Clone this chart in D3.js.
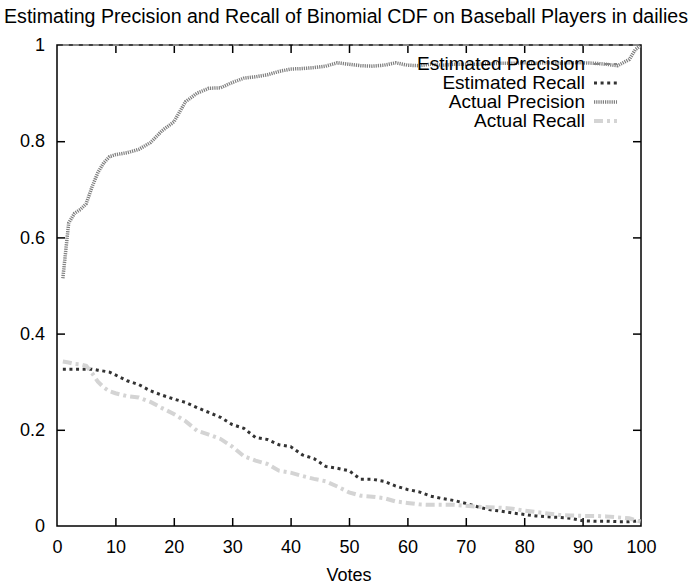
<!DOCTYPE html>
<html>
<head>
<meta charset="utf-8">
<script src="https://cdn.jsdelivr.net/npm/d3@7"></script>
<style>
  html, body { margin: 0; padding: 0; background: #fff; }
  svg { display: block; font-family: "Liberation Sans", Arial, sans-serif; }
</style>
</head>
<body>
<svg id="chart" width="688" height="585"></svg>
<script>
const title = "Estimating Precision and Recall of Binomial CDF on Baseball Players in dailies";
const xLabel = "Votes";
const seriesNames = ["Estimated Precision", "Estimated Recall", "Actual Precision", "Actual Recall"];
const xTicks = [0, 10, 20, 30, 40, 50, 60, 70, 80, 90, 100];
const yTicks = [0, 0.2, 0.4, 0.6, 0.8, 1];

const votes = [1,2,3,4,5,6,7,8,9,10,12,14,16,18,20,22,24,26,28,30,32,34,36,38,40,42,44,46,48,50,52,54,56,58,60,62,64,66,68,70,72,74,76,78,80,82,84,86,88,90,92,94,96,98,99,100];

const estimatedPrecision = votes.map(() => 1);

const estimatedRecall = [0.326,0.326,0.326,0.326,0.326,0.326,0.324,0.322,0.320,0.314,0.302,0.294,0.281,0.272,0.264,0.257,0.246,0.236,0.226,0.211,0.203,0.184,0.180,0.169,0.165,0.148,0.140,0.124,0.120,0.115,0.097,0.097,0.093,0.083,0.076,0.071,0.062,0.057,0.053,0.047,0.040,0.034,0.031,0.027,0.024,0.021,0.019,0.018,0.016,0.011,0.010,0.010,0.009,0.009,0.010,0.012];

const actualPrecision = [0.515,0.630,0.650,0.658,0.670,0.705,0.735,0.755,0.768,0.772,0.776,0.783,0.797,0.822,0.840,0.882,0.900,0.910,0.911,0.922,0.931,0.934,0.938,0.945,0.950,0.951,0.953,0.956,0.963,0.960,0.957,0.956,0.958,0.963,0.958,0.957,0.960,0.958,0.960,0.960,0.960,0.961,0.962,0.962,0.963,0.962,0.963,0.962,0.963,0.963,0.962,0.960,0.957,0.970,0.990,1.000];

const actualRecall = [0.342,0.340,0.337,0.336,0.333,0.318,0.300,0.288,0.280,0.276,0.270,0.267,0.258,0.245,0.233,0.218,0.198,0.190,0.181,0.165,0.145,0.136,0.129,0.115,0.111,0.104,0.098,0.093,0.082,0.070,0.063,0.061,0.058,0.051,0.048,0.045,0.044,0.044,0.044,0.042,0.040,0.039,0.038,0.036,0.032,0.029,0.026,0.023,0.022,0.021,0.021,0.020,0.018,0.016,0.012,0.009];

const seriesValues = [estimatedPrecision, estimatedRecall, actualPrecision, actualRecall];
const styles = [
  { stroke: "#888888", width: 2, dash: "6,4" },
  { stroke: "#333333", width: 3, dash: "3,3.6" },
  { stroke: "#7f7f7f", width: 3.5, dash: "1.2,1" },
  { stroke: "#d4d4d4", width: 4, dash: "9,4,3,4" }
];

const svg = d3.select("#chart");
const L = 57, R = 641, T = 45, B = 526;
const x = d3.scaleLinear().domain([0, 100]).range([L, R]);
const y = d3.scaleLinear().domain([0, 1]).range([B, T]);

// Title
svg.append("text").attr("x", 346).attr("y", 23).attr("text-anchor", "middle")
  .attr("font-size", 19.6).attr("fill", "#000").text(title);

// Axes (ticks inward, mirrored)
const tickLen = 8;
const gB = svg.append("g").attr("transform", `translate(0,${B})`)
  .call(d3.axisBottom(x).tickValues(xTicks).tickSizeInner(-tickLen).tickSizeOuter(0).tickPadding(14).tickFormat(d3.format("d")));
const gT = svg.append("g").attr("transform", `translate(0,${T})`)
  .call(d3.axisTop(x).tickValues(xTicks).tickSizeInner(-tickLen).tickSizeOuter(0).tickFormat(""));
const gL = svg.append("g").attr("transform", `translate(${L},0)`)
  .call(d3.axisLeft(y).tickValues(yTicks).tickSizeInner(-tickLen).tickSizeOuter(0).tickPadding(12).tickFormat(d => d === 0 || d === 1 ? d3.format("d")(d) : d3.format(".1f")(d)));
const gR = svg.append("g").attr("transform", `translate(${R},0)`)
  .call(d3.axisRight(y).tickValues(yTicks).tickSizeInner(-tickLen).tickSizeOuter(0).tickFormat(""));
[gB, gT, gL, gR].forEach(g => {
  g.select(".domain").remove();
  g.selectAll(".tick line").attr("stroke", "#000").attr("stroke-width", 1.5);
  g.selectAll(".tick text").attr("font-size", 18).attr("fill", "#000")
    .attr("font-family", "'Liberation Sans', Arial, sans-serif");
});
// hide end ticks that overlap border corners
gB.selectAll(".tick").filter(d => d === 0 || d === 100).select("line").remove();
gT.selectAll(".tick").filter(d => d === 0 || d === 100).select("line").remove();
gL.selectAll(".tick").filter(d => d === 0 || d === 1).select("line").remove();
gR.selectAll(".tick").filter(d => d === 0 || d === 1).select("line").remove();

// Border
svg.append("rect").attr("x", L).attr("y", T).attr("width", R - L).attr("height", B - T)
  .attr("fill", "none").attr("stroke", "#000").attr("stroke-width", 1.5);

// X label
svg.append("text").attr("x", 349).attr("y", 581).attr("text-anchor", "middle")
  .attr("font-size", 18).attr("fill", "#000").text(xLabel);

// Lines
const line = d3.line().x(d => x(d[0])).y(d => y(d[1]));
seriesValues.forEach((vals, i) => {
  const pts = votes.map((v, j) => [v, vals[j]]);
  svg.append("path").datum(pts).attr("d", line)
    .attr("fill", "none").attr("stroke", styles[i].stroke)
    .attr("stroke-width", styles[i].width).attr("stroke-dasharray", styles[i].dash);
});

// Legend
const legY = [63, 82, 101, 120];
seriesNames.forEach((name, i) => {
  svg.append("text").attr("x", 585).attr("y", legY[i]).attr("dy", "0.35em")
    .attr("text-anchor", "end").attr("font-size", 19).attr("fill", "#000").text(name);
  svg.append("line").attr("x1", 594).attr("x2", 617).attr("y1", legY[i] + 1).attr("y2", legY[i] + 1)
    .attr("stroke", styles[i].stroke).attr("stroke-width", styles[i].width)
    .attr("stroke-dasharray", styles[i].dash);
});
</script>
</body>
</html>
